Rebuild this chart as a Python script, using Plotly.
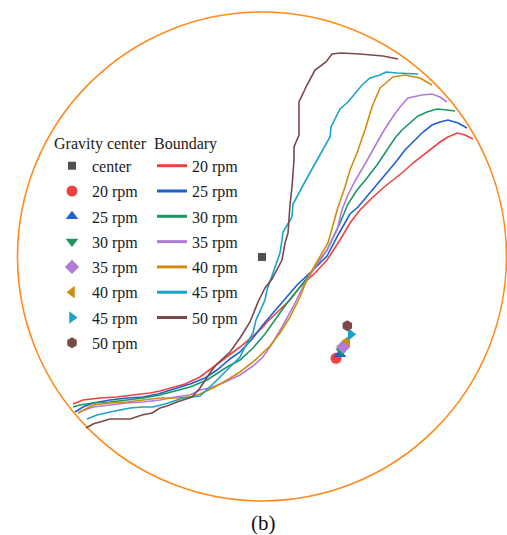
import plotly.graph_objects as go

# ---------------- data (image-plane coordinates, px) -------------
speeds = ["20 rpm", "25 rpm", "30 rpm", "35 rpm", "40 rpm", "45 rpm", "50 rpm"]
line_colors = ["#EE4242", "#1F5FD2", "#1E9660", "#B07CD8", "#D08C10", "#1AA2C8", "#7B4A48"]
marker_symbols = ["circle", "triangle-up", "triangle-down", "diamond",
                  "triangle-left", "triangle-right", "hexagon"]

# rotation centre of the drum
center_x = [262]
center_y = [257]

# gravity centres for each speed
gc_x = [336, 340, 341.7, 343.3, 347.3, 350.7, 347.3]
gc_y = [358.3, 354.3, 351, 346.7, 341, 334.3, 325.7]

# boundaries
b20_x = [73, 83, 100, 117, 133, 150, 160, 173, 185, 200, 213, 222, 227, 240, 253, 262, 267, 280, 290,
         300, 315, 327, 340, 350, 360, 372, 383, 393, 403, 413, 423, 432, 440, 448, 457, 465, 473]
b20_y = [404, 400, 398, 397, 395, 393, 391, 387, 384, 377, 367, 361, 357, 347, 336, 328, 322, 310, 300,
         287, 273, 260, 240, 223, 210, 198, 188, 180, 172, 163, 155, 148, 142, 137, 133, 135, 139]

b25_x = [75, 83, 93, 110, 127, 143, 158, 175, 190, 205, 217, 230, 240, 253, 262, 273, 287, 297, 313,
         327, 338, 350, 358, 370, 383, 395, 405, 415, 423, 432, 440, 448, 458, 467]
b25_y = [412, 407, 403, 400, 398, 397, 394, 389, 384, 378, 370, 359, 352, 338, 326, 313, 297, 285, 270,
         256, 235, 214, 207, 193, 178, 163, 150, 140, 132, 125, 122, 120, 123, 128]

b30_x = [73, 80, 93, 110, 127, 143, 160, 175, 190, 207, 215, 227, 240, 253, 265, 277, 287, 300, 313,
         327, 340, 348, 357, 367, 377, 387, 395, 402, 410, 418, 427, 437, 447, 455]
b30_y = [407, 405, 403, 402, 400, 398, 395, 391, 387, 380, 375, 367, 360, 348, 334, 317, 303, 287, 270,
         250, 223, 204, 190, 178, 165, 150, 138, 130, 123, 116, 112, 109, 110, 111]

b35_x = [78, 82, 93, 110, 127, 143, 160, 175, 190, 200, 210, 223, 240, 253, 262, 270, 282, 293, 303,
         315, 327, 337, 342, 347, 355, 365, 373, 383, 392, 400, 408, 422, 432, 440, 447]
b35_y = [413, 411, 407, 405, 403, 402, 400, 397, 395, 390, 388, 383, 375, 366, 358, 347, 327, 307, 287,
         267, 250, 230, 210, 197, 181, 164, 150, 132, 118, 107, 98, 95, 94, 97, 102]

b40_x = [78, 85, 93, 110, 127, 143, 160, 175, 190, 200, 213, 227, 240, 253, 262, 270, 280, 290, 300,
         308, 318, 328, 333, 338, 345, 350, 357, 365, 372, 380, 387, 393, 405, 420, 432]
b40_y = [413, 409, 405, 403, 402, 400, 398, 398, 397, 394, 388, 380, 372, 362, 354, 346, 333, 317, 297,
         277, 260, 243, 225, 207, 187, 170, 153, 130, 107, 88, 82, 77, 75, 78, 85]

b45_x = [87, 97, 110, 130, 143, 153, 165, 175, 183, 200, 213, 227, 240, 245, 253, 256, 265, 267, 273,
         280, 282, 283, 292, 293, 307, 319, 330, 331, 337, 340, 348, 362, 370, 380, 386, 397, 418]
b45_y = [419, 415, 412, 408, 407, 407, 404, 401, 398, 396, 384, 370, 357, 347, 333, 320, 300, 290, 272,
         253, 240, 232, 217, 204, 178, 157, 137, 127, 115, 109, 102, 85, 78, 75, 72, 73, 74]

b50_x = [86, 93, 110, 130, 142, 152, 160, 167, 177, 185, 192, 200, 207, 212, 218, 230, 240, 250, 258,
         265, 272, 277, 282, 285, 288, 290, 292, 294, 294, 299, 299, 307, 315, 326, 332, 341, 360, 383, 398]
b50_y = [428, 424, 419, 419, 415, 413, 408, 406, 402, 399, 397, 388, 378, 370, 363, 352, 338, 322, 302,
         288, 279, 270, 260, 243, 233, 205, 187, 160, 147, 135, 102, 85, 70, 62, 54, 53, 54, 56, 59]

boundaries_x = [b20_x, b25_x, b30_x, b35_x, b40_x, b45_x, b50_x]
boundaries_y = [b20_y, b25_y, b30_y, b35_y, b40_y, b45_y, b50_y]

# drum outline (image-plane extent)
drum = dict(x0=17.5, x1=506.5, y0=12, y1=501)

# ---------------- figure ----------------
FONT = "Liberation Serif, Times New Roman, serif"
fig = go.Figure()

# boundary curves (plot)
for name, col, bx, by in zip(speeds, line_colors, boundaries_x, boundaries_y):
    fig.add_trace(go.Scatter(x=bx, y=by, mode="lines", name=name, showlegend=False,
                             line=dict(color=col, width=1.6)))

# gravity centre markers
fig.add_trace(go.Scatter(x=center_x, y=center_y, mode="markers", name="center",
                         marker=dict(symbol="square", size=8, color="#505050"),
                         legend="legend", legendgroup="c0"))
for i, (name, col, sym) in enumerate(zip(speeds, line_colors, marker_symbols)):
    fig.add_trace(go.Scatter(x=[gc_x[i]], y=[gc_y[i]], mode="markers", name=name,
                             marker=dict(symbol=sym, size=11, color=col),
                             legend="legend", legendgroup=f"c{i+1}"))

# boundary legend entries (thicker legend lines)
for i, (name, col) in enumerate(zip(speeds, line_colors)):
    fig.add_trace(go.Scatter(x=[None], y=[None], mode="lines", name=name,
                             line=dict(color=col, width=3),
                             legend="legend2", legendgroup=f"b{i}"))

fig.add_shape(type="circle", xref="x", yref="y", line=dict(color="#FF8A1E", width=1.6),
              layer="below", **drum)

fig.add_annotation(text="(b)", xref="paper", yref="paper", x=263 / 507, y=1 - 523 / 535,
                   showarrow=False, font=dict(family=FONT, size=21, color="#111"),
                   xanchor="center", yanchor="middle")

legend_common = dict(font=dict(family=FONT, size=16, color="#1a1a1a"),
                     bgcolor="rgba(0,0,0,0)", xanchor="left", yanchor="top",
                     tracegroupgap=1.5, itemwidth=30)
fig.update_layout(
    width=507, height=535,
    margin=dict(l=0, r=0, t=0, b=0),
    paper_bgcolor="white", plot_bgcolor="white",
    xaxis=dict(range=[0, 507], visible=False, fixedrange=True),
    yaxis=dict(range=[535, 0], visible=False, fixedrange=True),
    legend=dict(title=dict(text="Gravity center", font=dict(family=FONT, size=16, color="#1a1a1a")),
                x=52 / 507, y=1 - 128 / 535, **legend_common),
    legend2=dict(title=dict(text="Boundary", font=dict(family=FONT, size=16, color="#1a1a1a")),
                 x=152 / 507, y=1 - 128 / 535, **legend_common),
)

fig.write_html("out.html", config={"displayModeBar": False},
               post_script="document.body.style.margin='0';document.body.style.overflow='hidden';")
